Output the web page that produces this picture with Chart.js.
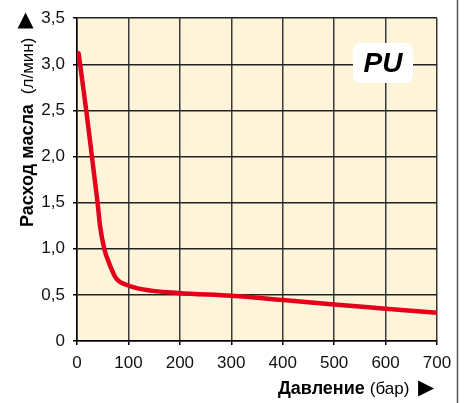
<!DOCTYPE html>
<html>
<head>
<meta charset="utf-8">
<script src="https://cdn.jsdelivr.net/npm/chart.js@4.4.1/dist/chart.umd.min.js"></script>
<style>
    html, body { margin: 0; padding: 0; background: #fff; }
    #wrap { width: 465px; height: 403px; position: relative; }
</style>
</head>
<body>
<div id="wrap"><canvas id="grafico"></canvas></div>
<script>
// datos
const presion = [3, 6, 18, 29, 40, 45, 53, 62, 76, 96, 128, 197, 300, 400, 500, 600, 700];
const caudal = [3.12, 3.0, 2.5, 2.0, 1.5, 1.24, 1.0, 0.85, 0.68, 0.61, 0.56, 0.52, 0.49, 0.445, 0.395, 0.35, 0.305];
const ticksX = [0, 100, 200, 300, 400, 500, 600, 700];
const ticksY = [0, 0.5, 1, 1.5, 2, 2.5, 3, 3.5];
const tituloX = ['Давление', '(бар)'];
const tituloY = ['Расход масла', '(л/мин)'];
const etiqueta = 'PU';

const puntos = presion.map((p, i) => ({ x: p, y: caudal[i] }));

const fuente = "'Liberation Sans', Arial, sans-serif";
const fuenteNarrow = "'Liberation Sans Narrow', 'Liberation Sans', Arial, sans-serif";

// fondo, titulos y caja PU
const extras = {
    id: 'extras',
    beforeDraw(chart) {
        const { ctx, chartArea: a } = chart;
        ctx.save();
        ctx.fillStyle = '#fef4d9';
        ctx.fillRect(a.left, a.top, a.right - a.left, a.bottom - a.top);
        ctx.restore();
    },
    afterDraw(chart) {
        const ctx = chart.ctx;
        ctx.save();
        // linea derecha
        ctx.strokeStyle = '#555';
        ctx.lineWidth = 1.5;
        ctx.beginPath();
        ctx.moveTo(457.5, 0);
        ctx.lineTo(457.5, 403);
        ctx.stroke();

        // titulo X
        ctx.fillStyle = '#000';
        ctx.textBaseline = 'alphabetic';
        ctx.textAlign = 'left';
        ctx.font = "bold 18px " + fuenteNarrow;
        ctx.fillText(tituloX[0], 278, 394);
        let w = ctx.measureText(tituloX[0] + ' ').width;
        ctx.font = "17px " + fuente;
        ctx.fillText(tituloX[1], 278 + w, 394);
        ctx.font = "21px 'DejaVu Sans'";
        ctx.textAlign = 'center';
        ctx.textBaseline = 'middle';
        ctx.fillText('▶', 426, 389);

        // titulo Y
        ctx.save();
        ctx.textAlign = 'left';
        ctx.textBaseline = 'alphabetic';
        ctx.translate(33, 227);
        ctx.rotate(-Math.PI / 2);
        ctx.font = "bold 18px " + fuenteNarrow;
        ctx.fillText(tituloY[0], 0, 0);
        w = ctx.measureText(tituloY[0] + '  ').width;
        ctx.font = "17px " + fuente;
        ctx.fillText(tituloY[1], w, 0);
        ctx.restore();
        ctx.font = "21px 'DejaVu Sans'";
        ctx.fillText('▲', 25.5, 21);

        // caja PU
        ctx.fillStyle = '#fff';
        ctx.beginPath();
        ctx.roundRect(353, 43, 60, 40, 8);
        ctx.fill();
        ctx.fillStyle = '#000';
        ctx.font = "italic bold 28px " + fuente;
        ctx.textAlign = 'center';
        ctx.textBaseline = 'middle';
        ctx.fillText(etiqueta, 383, 64);
        ctx.restore();
    }
};

const config = {
    type: 'scatter',
    data: {
        datasets: [{
            data: puntos,
            showLine: true,
            borderColor: '#e3001b',
            backgroundColor: '#e3001b',
            borderWidth: 4.5,
            pointRadius: 0,
            cubicInterpolationMode: 'monotone',
            borderCapStyle: 'round'
        }]
    },
    options: {
        responsive: true,
        maintainAspectRatio: false,
        animation: false,
        layout: { padding: { left: 0, right: 28, top: 18, bottom: 0 } },
        plugins: { legend: { display: false }, tooltip: { enabled: false } },
        scales: {
            x: {
                type: 'linear',
                min: 0, max: 700,
                afterFit: (s) => { s.height = 62; },
                afterBuildTicks: (s) => { s.ticks = ticksX.map(v => ({ value: v })); },
                grid: { color: '#3a3a3a', lineWidth: 1.5, tickLength: 4, tickColor: '#000' },
                border: { color: '#000', width: 1.5 },
                ticks: { color: '#111', font: { family: fuente, size: 17 }, padding: 8, maxRotation: 0 }
            },
            y: {
                type: 'linear',
                min: 0, max: 3.5,
                afterFit: (s) => { s.width = 77; },
                afterBuildTicks: (s) => { s.ticks = ticksY.map(v => ({ value: v })); },
                grid: { color: '#222', lineWidth: 1.5, tickLength: 4, tickColor: '#000' },
                border: { color: '#000', width: 1.5 },
                ticks: {
                    color: '#111', font: { family: fuente, size: 17 }, padding: 8,
                    callback: (v) => v === 0 ? '0' : v.toFixed(1).replace('.', ',')
                }
            }
        }
    },
    plugins: [extras]
};

new Chart(document.getElementById('grafico'), config);
</script>
</body>
</html>
